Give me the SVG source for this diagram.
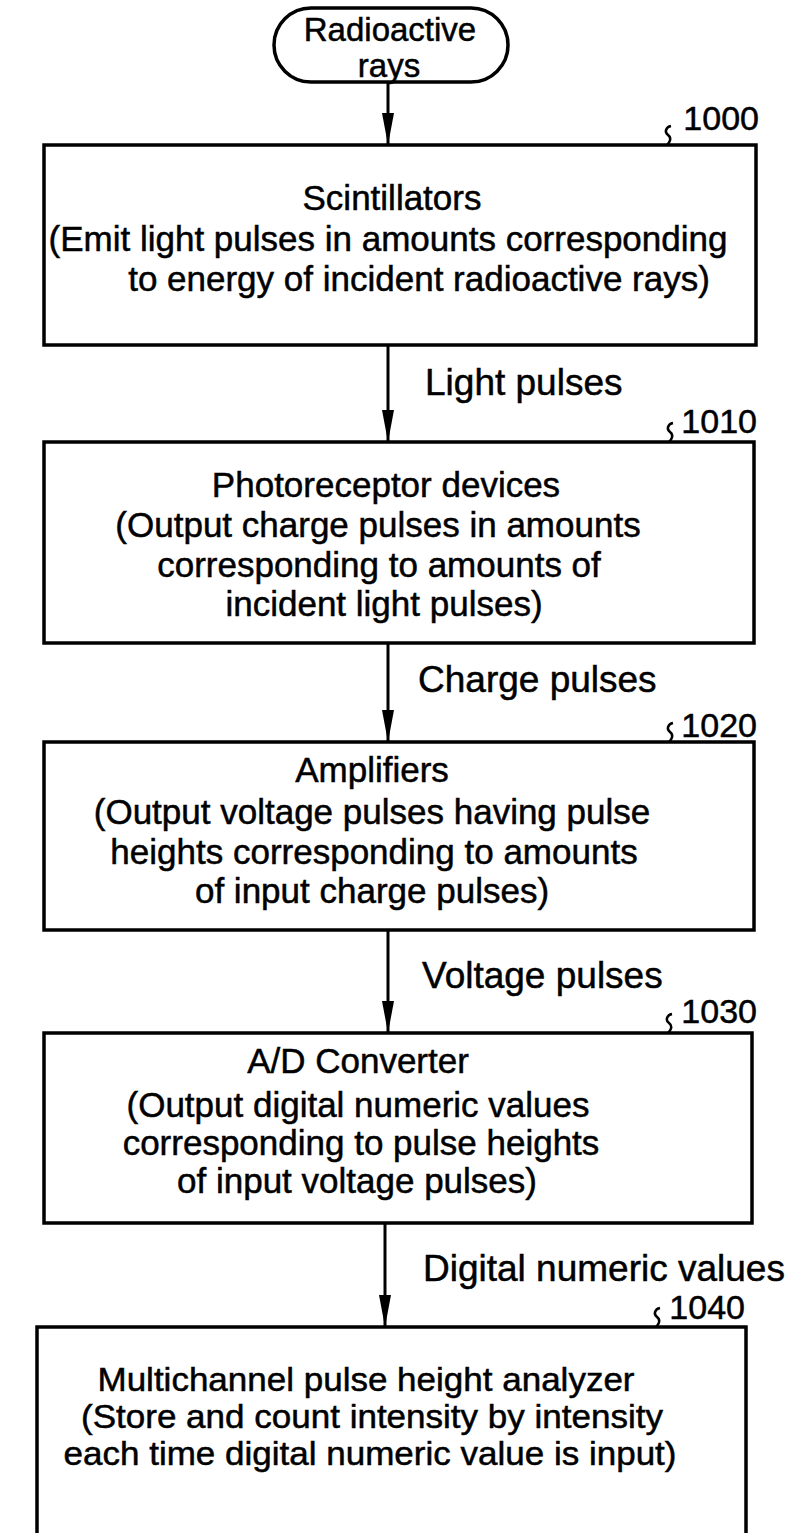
<svg xmlns="http://www.w3.org/2000/svg" width="796" height="1533" viewBox="0 0 796 1533">
<defs>
<style>
text{font-family:"Liberation Sans",Arial,Helvetica,sans-serif;fill:#000;stroke:#000;stroke-width:0.5}
.b{font-size:35px;text-anchor:middle}
.s{font-size:33px;text-anchor:middle}
.t{font-size:33px;text-anchor:middle}
.lbl{font-size:37px}
.num{font-size:34px;text-anchor:end}
.box{fill:none;stroke:#000;stroke-width:3.5}
.hook{fill:none;stroke:#000;stroke-width:2.5}
.conn{stroke:#000;stroke-width:3;fill:none}
</style>
<marker id="ah" markerUnits="userSpaceOnUse" markerWidth="32" markerHeight="12" viewBox="0 0 32 12" refX="32" refY="6" orient="auto"><path d="M0,0 L32,6 L0,12 Z" fill="#000"/></marker>
</defs>
<rect width="796" height="1533" fill="#fff"/>

<g id="start">
<rect class="box" x="274" y="8" width="234" height="74" rx="37"/>
<text class="t" x="390" y="41">Radioactive</text>
<text class="t" x="389" y="77">rays</text>
</g>

<g id="n1000">
<rect class="box" x="44" y="145" width="712" height="200"/>
<path class="hook" d="M671,126 c-5,1 -7,6 -3,9 c4,3 2,7 -1,10"/>
<text class="num" x="759" y="130">1000</text>
<text class="b" x="392" y="210">Scintillators</text>
<text class="b" x="388" y="251">(Emit light pulses in amounts corresponding</text>
<text class="b" x="419" y="291">to energy of incident radioactive rays)</text>
</g>

<g id="n1010">
<rect class="box" x="44" y="442" width="710" height="201"/>
<path class="hook" d="M673,423 c-5,1 -7,6 -3,9 c4,3 2,7 -1,10"/>
<text class="num" x="757" y="433">1010</text>
<text class="b" x="386" y="497">Photoreceptor devices</text>
<text class="b" x="378" y="537">(Output charge pulses in amounts</text>
<text class="b" x="379" y="577">corresponding to amounts of</text>
<text class="b" x="384" y="616">incident light pulses)</text>
</g>

<g id="n1020">
<rect class="box" x="44" y="742" width="710" height="188"/>
<path class="hook" d="M673,723 c-5,1 -7,6 -3,9 c4,3 2,7 -1,10"/>
<text class="num" x="757" y="737">1020</text>
<text class="b" x="372" y="782">Amplifiers</text>
<text class="b" x="372" y="824">(Output voltage pulses having pulse</text>
<text class="b" x="374" y="864">heights corresponding to amounts</text>
<text class="b" x="372" y="903">of input charge pulses)</text>
</g>

<g id="n1030">
<rect class="box" x="44" y="1033" width="708" height="190"/>
<path class="hook" d="M672,1014 c-5,1 -7,6 -3,9 c4,3 2,7 -1,10"/>
<text class="num" x="757" y="1023">1030</text>
<text class="b" x="358" y="1073">A/D Converter</text>
<text class="b" x="358" y="1117">(Output digital numeric values</text>
<text class="b" x="361" y="1155">corresponding to pulse heights</text>
<text class="b" x="357" y="1193">of input voltage pulses)</text>
</g>

<g id="n1040">
<path class="box" d="M37,1545 V1327 H746 V1545"/>
<path class="hook" d="M660,1308 c-5,1 -7,6 -3,9 c4,3 2,7 -1,10"/>
<text class="num" x="745" y="1319">1040</text>
<text class="s" x="366" y="1391" textLength="537" lengthAdjust="spacingAndGlyphs">Multichannel pulse height analyzer</text>
<text class="s" x="372" y="1428" textLength="582" lengthAdjust="spacingAndGlyphs">(Store and count intensity by intensity</text>
<text class="s" x="370" y="1465" textLength="613" lengthAdjust="spacingAndGlyphs">each time digital numeric value is input)</text>
</g>

<g id="connectors">
<path class="conn" d="M388,82 V145" marker-end="url(#ah)"/>
<path class="conn" d="M388,345 V442" marker-end="url(#ah)"/>
<path class="conn" d="M388,643 V742" marker-end="url(#ah)"/>
<path class="conn" d="M388,930 V1033" marker-end="url(#ah)"/>
<path class="conn" d="M385,1223 V1327" marker-end="url(#ah)"/>
<text class="lbl" x="425" y="395">Light pulses</text>
<text class="lbl" x="418" y="692">Charge pulses</text>
<text class="lbl" x="422" y="988">Voltage pulses</text>
<text class="lbl" x="423" y="1281">Digital numeric values</text>
</g>
</svg>
